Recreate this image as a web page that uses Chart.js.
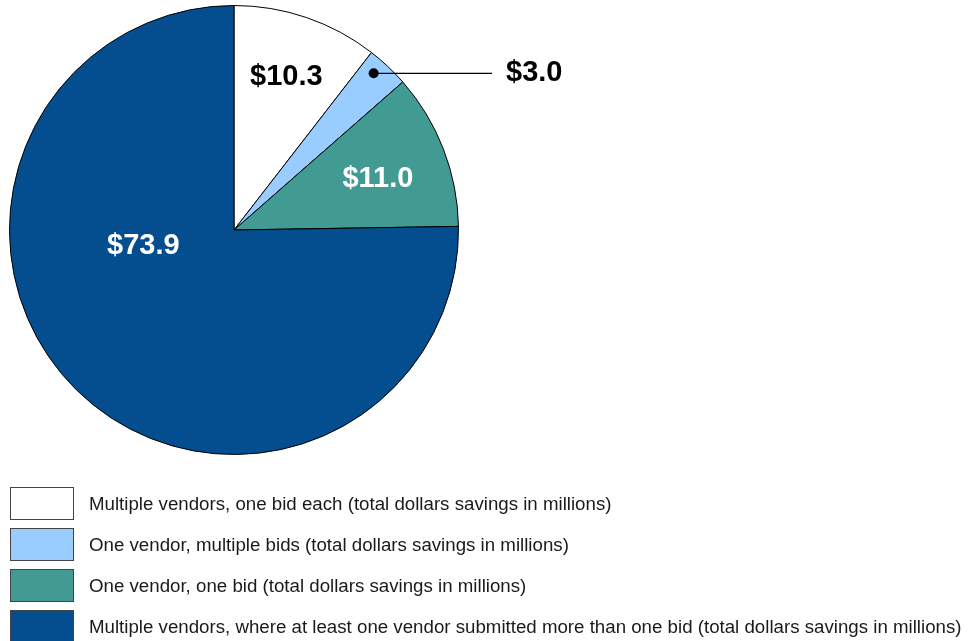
<!DOCTYPE html>
<html>
<head>
<meta charset="utf-8">
<script src="https://cdn.jsdelivr.net/npm/chart.js@4.4.0/dist/chart.umd.min.js"></script>
<style>
    html, body { margin: 0; padding: 0; background: #fff; }
    #wrap { position: relative; width: 978px; height: 641px; overflow: hidden; }
    #pie { position: absolute; left: 0; top: 0; }
    #legend { position: absolute; left: 10px; top: 487px; font-family: "Liberation Sans", Arial, sans-serif; font-size: 18.7px; color: #1a1a1a; }
    .item { display: flex; align-items: center; height: 33px; margin-bottom: 8px; white-space: nowrap; }
    .box { width: 62px; height: 31px; border: 1px solid #444; margin-right: 15px; box-sizing: content-box; }
</style>
</head>
<body>
<div id="wrap">
    <canvas id="pie" width="978" height="641"></canvas>
    <div id="legend"></div>
</div>
<script>
// Data
const categories = [
    'Multiple vendors, one bid each (total dollars savings in millions)',
    'One vendor, multiple bids (total dollars savings in millions)',
    'One vendor, one bid (total dollars savings in millions)',
    'Multiple vendors, where at least one vendor submitted more than one bid (total dollars savings in millions)'
];
const savings = [10.3, 3.0, 11.0, 73.9];
const valueLabels = ['$10.3', '$3.0', '$11.0', '$73.9'];

// Styles
const sliceColors = ['#ffffff', '#99ccff', '#419b92', '#044e8f'];
const labelColors = ['#000000', '#000000', '#ffffff', '#ffffff'];
// label placement: fraction of radius, angle override (deg from top, clockwise) or null for mid-angle, callout flag
const labelPlacement = [
    { r: 0.72, angle: null, callout: false },
    { r: 0.935, angle: 41.7, callout: true },
    { r: 0.68, angle: 70.5, callout: false },
    { r: 0.41, angle: 260, callout: false }
];

/**
 * Draw value labels on / beside the slices
 */
const sliceLabels = {
    id: 'sliceLabels',
    afterDatasetsDraw(chart) {
        const ctx = chart.ctx;
        const meta = chart.getDatasetMeta(0);
        ctx.save();
        ctx.font = 'bold 29px "Liberation Sans", Arial, sans-serif';
        ctx.textBaseline = 'middle';
        meta.data.forEach((arc, i) => {
            const p = labelPlacement[i];
            const mid = (arc.startAngle + arc.endAngle) / 2;
            const a = p.angle === null ? mid : (p.angle - 90) * Math.PI / 180;
            const x = arc.x + Math.cos(a) * arc.outerRadius * p.r;
            const y = arc.y + Math.sin(a) * arc.outerRadius * p.r;
            if (p.callout) {
                // dot + leader line to the right
                ctx.fillStyle = '#000';
                ctx.beginPath();
                ctx.arc(x, y, 5, 0, Math.PI * 2);
                ctx.fill();
                ctx.strokeStyle = '#000';
                ctx.lineWidth = 1.2;
                ctx.beginPath();
                ctx.moveTo(x, y);
                ctx.lineTo(492, y);
                ctx.stroke();
                ctx.textAlign = 'left';
                ctx.fillStyle = labelColors[i];
                ctx.fillText(valueLabels[i], 506, y);
            } else {
                ctx.textAlign = 'center';
                ctx.fillStyle = labelColors[i];
                ctx.fillText(valueLabels[i], x, y);
            }
        });
        ctx.restore();
    }
};

new Chart(document.getElementById('pie').getContext('2d'), {
    type: 'pie',
    data: {
        labels: categories,
        datasets: [{
            data: savings,
            backgroundColor: sliceColors,
            borderColor: '#000000',
            borderWidth: 1
        }]
    },
    options: {
        responsive: false,
        animation: false,
        layout: {
            padding: { left: 9, top: 5, right: 519, bottom: 186 }
        },
        plugins: {
            legend: { display: false },
            tooltip: { enabled: false }
        }
    },
    plugins: [sliceLabels]
});

// Legend (HTML, built from the same arrays)
const legendEl = document.getElementById('legend');
categories.forEach((name, i) => {
    const item = document.createElement('div');
    item.className = 'item';
    const box = document.createElement('div');
    box.className = 'box';
    box.style.background = sliceColors[i];
    const text = document.createElement('span');
    text.textContent = name;
    item.appendChild(box);
    item.appendChild(text);
    legendEl.appendChild(item);
});
</script>
</body>
</html>
